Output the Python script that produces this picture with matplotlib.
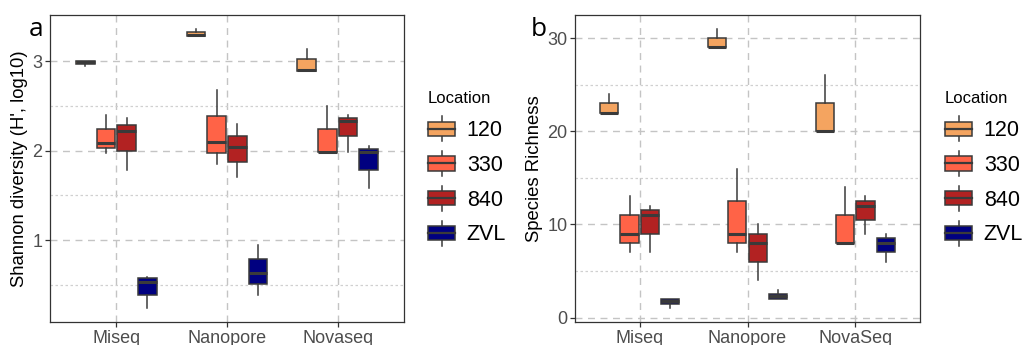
import matplotlib
matplotlib.use("Agg")
import matplotlib.pyplot as plt
from matplotlib.legend_handler import HandlerBase
from matplotlib.patches import Rectangle, Patch
from matplotlib.lines import Line2D
import numpy as np

plt.rcParams['font.family'] = ['Liberation Sans', 'DejaVu Sans']

locations = ["120", "330", "840", "ZVL"]
colors = ["#F4A460", "#FF6347", "#B22222", "#000080"]

platforms_a = ["Miseq", "Nanopore", "Novaseq"]
platforms_b = ["Miseq", "Nanopore", "NovaSeq"]

# Shannon diversity: rows = platform, cols = location
shannon_lo = [[2.95, 1.97, 1.79, 0.243],
              [3.282, 1.85, 1.71, 0.39],
              [2.892, 1.985, 1.99, 1.58]]
shannon_q1 = [[2.97, 2.03, 2.00, 0.39],
              [3.282, 1.97, 1.87, 0.51],
              [2.892, 1.985, 2.164, 1.78]]
shannon_med = [[2.99, 2.09, 2.22, 0.53],
               [3.293, 2.10, 2.045, 0.636],
               [2.90, 1.99, 2.334, 1.985]]
shannon_q3 = [[3.005, 2.245, 2.29, 0.573],
              [3.327, 2.387, 2.167, 0.796],
              [3.019, 2.245, 2.368, 2.023]]
shannon_hi = [[3.005, 2.40, 2.36, 0.595],
              [3.36, 2.677, 2.294, 0.95],
              [3.134, 2.498, 2.395, 2.056]]

# Species richness
rich_lo = [[22, 7, 7, 1],
           [29, 7, 4, 2],
           [20, 8, 9, 6]]
rich_q1 = [[22, 8, 9, 1.5],
           [29, 8, 6, 2],
           [20, 8, 10.5, 7]]
rich_med = [[22, 9, 11, 1.75],
            [29, 9, 8, 2.3],
            [20, 8, 12, 8]]
rich_q3 = [[23, 11, 11.5, 2],
           [30, 12.5, 9, 2.5],
           [23, 11, 12.5, 8.5]]
rich_hi = [[24, 13, 12, 2],
           [31, 16, 10, 3],
           [26, 14, 13, 9]]

grid_major = "#C4C4C4"
grid_minor = "#D0D0D0"
edge = "#3A3A3A"

fig = plt.figure(figsize=(10.26, 3.45), dpi=100)
ax_a = fig.add_axes([50/1026, 1-322/345, 354/1026, 307/345])
ax_b = fig.add_axes([575/1026, 1-322.3/345, 345/1026, 307.6/345])

dodge = 0.75
nloc = len(locations)
slot = dodge / nloc
bw = slot * 0.9


def draw_panel(ax, platforms, lo, q1, med, q3, hi, yticks, yminor, ylabel):
    for j, loc in enumerate(locations):
        stats = []
        pos = []
        for i in range(len(platforms)):
            stats.append(dict(med=med[i][j], q1=q1[i][j], q3=q3[i][j],
                              whislo=lo[i][j], whishi=hi[i][j], fliers=[]))
            pos.append(i + 1 - dodge/2 + slot*(j + 0.5))
        ax.bxp(stats, positions=pos, widths=bw, patch_artist=True,
               showcaps=False, showfliers=False, manage_ticks=False,
               boxprops=dict(facecolor=colors[j], edgecolor=edge, linewidth=1.1),
               whiskerprops=dict(color=edge, linewidth=1.1),
               medianprops=dict(color=edge, linewidth=2.2, solid_capstyle='butt'),
               zorder=3)
    allv = np.concatenate([np.ravel(lo), np.ravel(hi)])
    vmin, vmax = allv.min(), allv.max()
    pad = (vmax - vmin) * 0.05
    ax.set_ylim(vmin - pad, vmax + pad)
    ax.set_xlim(0.4, len(platforms) + 0.6)
    ax.set_xticks(range(1, len(platforms) + 1))
    ax.set_xticklabels(platforms)
    ax.set_yticks(yticks)
    ax.set_yticks(yminor, minor=True)
    ax.tick_params(axis='both', which='major', labelsize=13, labelcolor="#4D4D4D",
                   color="#333333", length=3.5, width=0.9, pad=2)
    ax.tick_params(axis='both', which='minor', length=0)
    ax.grid(True, which='major', axis='both', color=grid_major, linestyle=(0, (5, 4)), linewidth=1.0, zorder=0)
    ax.grid(True, which='minor', axis='y', color=grid_minor, linestyle=(0, (2, 2)), linewidth=0.9, zorder=0)
    ax.set_axisbelow(True)
    for s in ax.spines.values():
        s.set_color("#333333")
        s.set_linewidth(0.9)
    ax.set_ylabel(ylabel, fontsize=13.3, labelpad=3)


draw_panel(ax_a, platforms_a, shannon_lo, shannon_q1, shannon_med, shannon_q3, shannon_hi,
           [1, 2, 3], [0.5, 1.5, 2.5], "Shannon diversity (H', log10)")
draw_panel(ax_b, platforms_b, rich_lo, rich_q1, rich_med, rich_q3, rich_hi,
           [0, 10, 20, 30], [5, 15, 25], "Species Richness")


class BoxHandler(HandlerBase):
    def create_artists(self, legend, orig_handle, xdescent, ydescent, width, height, fontsize, trans):
        x0, y0 = -xdescent, -ydescent
        cx = x0 + width / 2
        bh = height * 0.62
        by = y0 + (height - bh) / 2
        wl = Line2D([cx, cx], [y0 - height*0.05, y0 + height*1.05], color=edge, lw=1.1, transform=trans)
        r = Rectangle((x0, by), width, bh, facecolor=orig_handle.get_facecolor(),
                      edgecolor=edge, lw=1.1, transform=trans)
        m = Line2D([x0, x0 + width], [by + bh/2, by + bh/2], color=edge, lw=1.6, transform=trans)
        return [wl, r, m]


handles = [Patch(facecolor=c) for c in colors]
for ax, xanchor in [(ax_a, 413/1026), (ax_b, 930/1026)]:
    leg = fig.legend(handles, locations, handler_map={Patch: BoxHandler()},
                     title="Location", loc='upper left', bbox_to_anchor=(xanchor, 1 - 76/345),
                     frameon=False, fontsize=15.5, title_fontsize=12,
                     handlelength=1.25, handleheight=1.25, labelspacing=0.52,
                     handletextpad=0.55, borderpad=0.2)
    leg._legend_box.align = "left"

fig.text(36/1026, 1 - 30/345, "a", fontsize=19, family="Open Sans", ha='center', va='center')
fig.text(539/1026, 1 - 30/345, "b", fontsize=19, family="Open Sans", ha='center', va='center')

fig.savefig("out.png", dpi=100)
